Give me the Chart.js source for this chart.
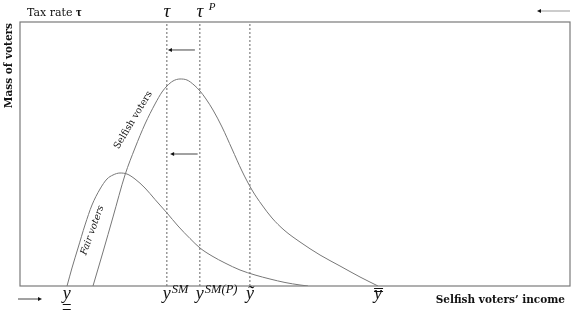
<!DOCTYPE html>
<html>
<head>
<meta charset="utf-8">
<script src="https://cdn.jsdelivr.net/npm/chart.js@4.4.1/dist/chart.umd.min.js"></script>
<style>
  body { margin: 0; background: #fff; }
  canvas { display: block; }
</style>
</head>
<body>
<canvas id="chart" width="580" height="325"></canvas>
<script>
// income on x (0..100), mass of voters on y (0..100)
const selfishX = [13.27, 15.09, 16.91, 19.09, 20.91, 22.73, 24.55, 25.82, 26.73, 27.82, 29.09, 30.36, 31.64, 32.73, 33.82, 35.09, 36.73, 38.55, 40.36, 42.18, 44.0, 45.82, 48.0, 50.91, 54.55, 58.18, 61.82, 65.09];
const selfishY = [0, 12.88, 26.14, 42.05, 52.27, 61.36, 68.94, 73.48, 75.76, 77.65, 78.41, 78.03, 76.14, 73.86, 70.83, 66.67, 60.23, 51.89, 43.56, 36.36, 30.68, 25.76, 21.21, 16.67, 11.74, 7.58, 3.41, 0];
const fairX = [8.55, 9.45, 10.55, 11.82, 13.09, 14.55, 15.82, 16.91, 18.18, 19.45, 20.91, 22.73, 24.55, 26.73, 28.73, 30.91, 32.73, 34.91, 37.27, 40.0, 42.73, 45.45, 48.18, 50.91, 52.36];
const fairY = [0, 6.82, 14.39, 23.11, 30.68, 36.74, 40.53, 42.05, 42.8, 42.42, 40.53, 37.12, 32.77, 27.65, 22.73, 17.99, 14.39, 11.36, 8.71, 6.06, 4.17, 2.65, 1.33, 0.38, 0];

// dashed cut-offs: y^SM / tau, y^SM(P) / tau^P, y tilde
const cutX = [26.7, 32.7, 41.8];

// income ticks along the bottom
const incomeTicks = [8.5, 26.7, 32.7, 41.8, 65.1];
const incomeLabels = ['y', 'y', 'y', '\u1EF9', 'y'];
const incomeSupers = ['', 'SM', 'SM(P)', '', ''];
const incomeMarks = ['under2', '', '', '', 'over2'];

// tax rate ticks along the top
const taxTicks = [26.7, 32.7];
const taxLabels = ['\u03C4', '\u03C4'];
const taxSupers = ['', 'P'];

// leftward shift arrows
const shiftFromX = [31.8, 32.3];
const shiftToX = [26.9, 27.3];
const shiftY = [89.4, 50.0];

const curveColor = '#777';
const serif = '"DejaVu Serif", serif';
const math = '"Liberation Serif", serif';

const points = (xs, ys) => xs.map((x, i) => ({ x, y: ys[i] }));

const datasets = [
  {
    data: points(selfishX, selfishY),
    borderColor: curveColor,
    borderWidth: 1,
    cubicInterpolationMode: 'monotone',
    pointRadius: 0,
    showLine: true,
  },
  {
    data: points(fairX, fairY),
    borderColor: curveColor,
    borderWidth: 1,
    cubicInterpolationMode: 'monotone',
    pointRadius: 0,
    showLine: true,
  },
];

cutX.forEach(x => {
  datasets.push({
    data: [{ x, y: 0 }, { x, y: 100 }],
    borderColor: '#666',
    borderWidth: 1,
    borderDash: [2, 2],
    pointRadius: 0,
    showLine: true,
  });
});

const arrow = (ctx, x1, y, x2, color) => {
  const dir = x2 > x1 ? 1 : -1;
  ctx.strokeStyle = color;
  ctx.fillStyle = '#111';
  ctx.lineWidth = 1;
  ctx.beginPath();
  ctx.moveTo(x1, y);
  ctx.lineTo(x2 - dir * 3, y);
  ctx.stroke();
  ctx.beginPath();
  ctx.moveTo(x2, y);
  ctx.lineTo(x2 - dir * 4, y - 2);
  ctx.lineTo(x2 - dir * 4, y + 2);
  ctx.closePath();
  ctx.fill();
};

// text, arrows and the frame
const sketchPlugin = {
  id: 'sketch',
  afterDraw(chart) {
    const { ctx, chartArea: area, scales } = chart;
    const xs = scales.x;
    const ys = scales.y;
    ctx.save();

    // frame
    ctx.strokeStyle = '#7a7a7a';
    ctx.lineWidth = 1.2;
    ctx.strokeRect(area.left, area.top, area.right - area.left, area.bottom - area.top);

    // shift arrows
    shiftY.forEach((y, i) => {
      arrow(ctx, xs.getPixelForValue(shiftFromX[i]), ys.getPixelForValue(y), xs.getPixelForValue(shiftToX[i]), '#444');
    });
    // axis direction arrows
    arrow(ctx, area.right, area.top - 11, area.right - 33, '#999');
    arrow(ctx, area.left - 2, area.bottom + 13, area.left + 22, '#444');

    ctx.fillStyle = '#111';
    ctx.textBaseline = 'alphabetic';

    // axis titles
    ctx.textAlign = 'left';
    ctx.font = '11px ' + serif;
    ctx.fillText('Tax rate ', 27, 16);
    const w = ctx.measureText('Tax rate ').width;
    ctx.font = 'bold 12px ' + math;
    ctx.fillText('\u03C4', 27 + w, 16);

    ctx.font = 'bold 10.5px ' + serif;
    ctx.textAlign = 'right';
    ctx.fillText('Selfish voters\u2019 income', area.right - 5, area.bottom + 17);

    ctx.save();
    ctx.translate(12, area.top + 1);
    ctx.rotate(-Math.PI / 2);
    ctx.textAlign = 'right';
    ctx.fillText('Mass of voters', 0, 0);
    ctx.restore();

    // curve labels
    ctx.save();
    ctx.translate(xs.getPixelForValue(20.5), ys.getPixelForValue(62.9));
    ctx.rotate(-59 * Math.PI / 180);
    ctx.textAlign = 'center';
    ctx.font = '9.5px ' + serif;
    ctx.fillText('Selfish voters', 0, 3);
    ctx.restore();

    ctx.save();
    ctx.translate(xs.getPixelForValue(13.1), ys.getPixelForValue(21.2));
    ctx.rotate(-70 * Math.PI / 180);
    ctx.textAlign = 'center';
    ctx.font = 'italic 9.5px ' + serif;
    ctx.fillText('Fair voters', 0, 3);
    ctx.restore();

    // tax rate ticks
    taxTicks.forEach((t, i) => {
      const px = xs.getPixelForValue(t);
      ctx.textAlign = 'center';
      ctx.font = 'italic 19px ' + math;
      ctx.fillText(taxLabels[i], px, area.top - 5);
      if (taxSupers[i]) {
        ctx.textAlign = 'left';
        ctx.font = 'italic 11px ' + math;
        ctx.fillText(taxSupers[i], px + 9, area.top - 12);
      }
    });

    // income ticks
    incomeTicks.forEach((t, i) => {
      const px = xs.getPixelForValue(t);
      const base = area.bottom + 13;
      ctx.textAlign = 'center';
      ctx.font = 'italic 18px ' + math;
      const lw = ctx.measureText(incomeLabels[i]).width;
      ctx.fillText(incomeLabels[i], px, base);
      if (incomeSupers[i]) {
        ctx.textAlign = 'left';
        ctx.font = 'italic 12.5px ' + math;
        ctx.fillText(incomeSupers[i], px + lw / 2 + 1, base - 6);
      }
      ctx.strokeStyle = '#111';
      ctx.lineWidth = 1;
      if (incomeMarks[i] === 'under2') {
        [base + 5, base + 10].forEach(ly => {
          ctx.beginPath();
          ctx.moveTo(px - 4, ly + 0.5);
          ctx.lineTo(px + 4, ly + 0.5);
          ctx.stroke();
        });
      } else if (incomeMarks[i] === 'over2') {
        [base - 11, base - 8].forEach(ly => {
          ctx.beginPath();
          ctx.moveTo(px - 4, ly + 0.5);
          ctx.lineTo(px + 5, ly + 0.5);
          ctx.stroke();
        });
      }
    });

    ctx.restore();
  },
};

new Chart(document.getElementById('chart'), {
  type: 'scatter',
  data: { datasets },
  options: {
    responsive: false,
    animation: false,
    layout: { padding: { left: 20, top: 22, right: 10, bottom: 39 } },
    plugins: {
      legend: { display: false },
      tooltip: { enabled: false },
    },
    scales: {
      x: { type: 'linear', min: 0, max: 100, display: false },
      y: { type: 'linear', min: 0, max: 100, display: false },
    },
  },
  plugins: [sketchPlugin],
});
</script>
</body>
</html>
